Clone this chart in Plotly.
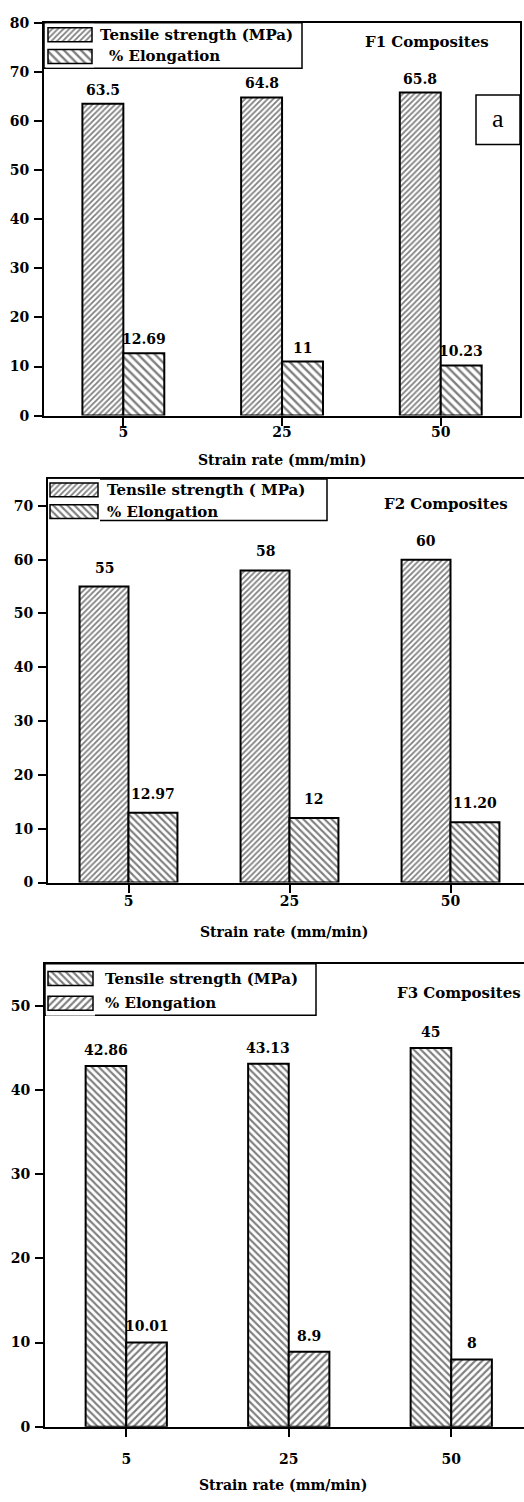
import plotly.graph_objects as go

W, H = 524, 1502

# Strain rates on the x axis (mm/min)
strain_rates = ["5", "25", "50"]

# Values as printed above each bar; bar heights are parsed from these strings
f1_tensile_txt = ["63.5", "64.8", "65.8"]
f1_elong_txt = ["12.69", "11", "10.23"]
f2_tensile_txt = ["55", "58", "60"]
f2_elong_txt = ["12.97", "12", "11.20"]
f3_tensile_txt = ["42.86", "43.13", "45"]
f3_elong_txt = ["10.01", "8.9", "8"]

y_ticks_f1 = [0, 10, 20, 30, 40, 50, 60, 70, 80]
y_ticks_f2 = [0, 10, 20, 30, 40, 50, 60, 70]
y_ticks_f3 = [0, 10, 20, 30, 40, 50]

SERIF = "DejaVu Serif"


def px_x(px):
    return px / W


def px_y(py):
    return 1 - py / H


panels = [
    dict(title="F1 Composites", tensile=f1_tensile_txt, elong=f1_elong_txt,
         tens_name="Tensile strength (MPa)", ticks=y_ticks_f1, ymax=80,
         left=44, right=520, top=15, bottom=412, spacing=158.7, mirror_y=True,
         bar_w=0.258, tens_pat=dict(shape="/", size=4, solidity=0.45),
         elong_pat=dict(shape="\\", size=6, solidity=0.4),
         label_shift=14, xlab_pad=-5, xtitle_y=457, title_xy=(427, 34),
         legend_box=(44, 15, 302, 61), swatch_x=(48, 92), rows=(27, 49),
         text_x=(98, 107)),
    dict(title="F2 Composites", tensile=f2_tensile_txt, elong=f2_elong_txt,
         tens_name="Tensile strength ( MPa)", ticks=y_ticks_f2, ymax=75,
         left=48, right=524, top=476, bottom=884, spacing=161, mirror_y=False,
         bar_w=0.304, tens_pat=dict(shape="/", size=4, solidity=0.45),
         elong_pat=dict(shape="\\", size=5, solidity=0.42),
         label_shift=19, xlab_pad=-3, xtitle_y=934, title_xy=(446, 501),
         legend_box=(48, 476, 327, 518), swatch_x=(50, 98), rows=(487, 509),
         text_x=(105, 105)),
    dict(title="F3 Composites", tensile=f3_tensile_txt, elong=f3_elong_txt,
         tens_name="Tensile strength (MPa)", ticks=y_ticks_f3, ymax=55,
         left=45, right=524, top=966, bottom=1434, spacing=162.5, mirror_y=False,
         bar_w=0.25, tens_pat=dict(shape="\\", size=5, solidity=0.42),
         elong_pat=dict(shape="/", size=5, solidity=0.42),
         label_shift=16, xlab_pad=10, xtitle_y=1493, title_xy=(459, 996),
         legend_box=(45, 966, 316, 1018), swatch_x=(48, 93), rows=(981, 1006),
         text_x=(103, 103)),
]

fig = go.Figure()
annotations = []
shapes = []
layout_axes = {}

for k, p in enumerate(panels):
    n = k + 1
    xa = "x" if n == 1 else f"x{n}"
    ya = "y" if n == 1 else f"y{n}"
    tens_vals = [float(s) for s in p["tensile"]]
    elong_vals = [float(s) for s in p["elong"]]
    w = p["bar_w"]

    for vals, pat, offset in ((tens_vals, p["tens_pat"], -w), (elong_vals, p["elong_pat"], 0.0)):
        fig.add_trace(go.Bar(
            x=strain_rates, y=vals, xaxis=xa, yaxis=ya,
            width=w, offset=offset, showlegend=False,
            marker=dict(color="white", line=dict(color="black", width=2),
                        pattern=dict(fgcolor="black", bgcolor="white", **pat)),
            hoverinfo="skip",
        ))

    # value labels above the bars
    for texts, vals, dx in ((p["tensile"], tens_vals, -w / 2), (p["elong"], elong_vals, w / 2)):
        for i, (t, v) in enumerate(zip(texts, vals)):
            annotations.append(dict(
                x=i + dx, y=v, xref=xa, yref=ya, text=t, showarrow=False,
                yanchor="middle", yshift=p["label_shift"],
                font=dict(family=SERIF, size=14, color="black", weight="bold")))

    x_end = -0.5 + (p["right"] - p["left"]) / p["spacing"]
    ax_common = dict(showline=True, linecolor="black", linewidth=2,
                     ticks="outside", ticklen=8, tickwidth=2, tickcolor="black",
                     showgrid=False, zeroline=False,
                     tickfont=dict(family=SERIF, size=14, color="black", weight="bold"))
    layout_axes[("xaxis" if n == 1 else f"xaxis{n}")] = dict(
        ax_common, type="category", range=[-0.5, x_end], mirror=True,
        domain=[px_x(p["left"]), px_x(p["right"])], anchor=ya,
        ticklabelstandoff=p["xlab_pad"])
    layout_axes[("yaxis" if n == 1 else f"yaxis{n}")] = dict(
        ax_common, range=[0, p["ymax"]], tickvals=p["ticks"], mirror=p["mirror_y"],
        domain=[px_y(p["bottom"]), px_y(p["top"])], anchor=xa, ticklabelstandoff=2)

    # x axis title
    annotations.append(dict(
        x=px_x((p["left"] + 520) / 2), y=px_y(p["xtitle_y"]), xref="paper", yref="paper",
        text="Strain rate (mm/min)", showarrow=False, xanchor="center", yanchor="middle",
        font=dict(family=SERIF, size=14, color="black", weight="bold")))

    # composite name
    annotations.append(dict(
        x=px_x(p["title_xy"][0]), y=px_y(p["title_xy"][1]), xref="paper", yref="paper",
        text=p["title"], showarrow=False, xanchor="center", yanchor="middle",
        font=dict(family=SERIF, size=15, color="black", weight="bold")))

    # legend frame
    x0, y0, x1, y1 = p["legend_box"]
    shapes.append(dict(type="rect", xref="paper", yref="paper",
                       x0=px_x(x0), x1=px_x(x1), y0=px_y(y1), y1=px_y(y0),
                       line=dict(color="black", width=1.5), fillcolor="white", layer="below"))

    # legend swatches drawn as small patterned bars on their own axes
    lx = 3 + n
    lxa, lya = f"x{lx}", f"y{lx}"
    sx0, sx1 = p["swatch_x"]
    r0, r1 = p["rows"]
    row_h = r1 - r0
    for row, pat in ((1, p["tens_pat"]), (0, p["elong_pat"])):
        fig.add_trace(go.Bar(
            x=[1], y=[row], base=[0], orientation="h", xaxis=lxa, yaxis=lya,
            width=14 / row_h, showlegend=False, hoverinfo="skip",
            marker=dict(color="white", line=dict(color="black", width=1.5),
                        pattern=dict(fgcolor="black", bgcolor="white", **pat))))
    pad = 2
    layout_axes[f"xaxis{lx}"] = dict(
        domain=[px_x(sx0 - pad), px_x(sx1 + pad)], anchor=lya, visible=False,
        range=[-pad / (sx1 - sx0), 1 + pad / (sx1 - sx0)], fixedrange=True)
    layout_axes[f"yaxis{lx}"] = dict(
        domain=[px_y(r1 + row_h / 2), px_y(r0 - row_h / 2)], anchor=lxa, visible=False,
        range=[-0.5, 1.5], fixedrange=True)

    # legend labels
    for label, tx, ty in ((p["tens_name"], p["text_x"][0], r0), ("% Elongation", p["text_x"][1], r1)):
        annotations.append(dict(
            x=px_x(tx), y=px_y(ty), xref="paper", yref="paper", text=label,
            showarrow=False, xanchor="left", yanchor="middle",
            font=dict(family=SERIF, size=15, color="black", weight="bold")))

# panel tag
shapes.append(dict(type="rect", xref="paper", yref="paper",
                   x0=px_x(476), x1=px_x(520), y0=px_y(138), y1=px_y(88),
                   line=dict(color="black", width=1.5), fillcolor="white"))
annotations.append(dict(x=px_x(498), y=px_y(112), xref="paper", yref="paper", text="a",
                        showarrow=False, xanchor="center", yanchor="middle",
                        font=dict(family="Liberation Serif", size=26, color="black")))

fig.update_layout(
    width=W, height=H, margin=dict(l=0, r=0, t=0, b=0),
    paper_bgcolor="white", plot_bgcolor="white",
    barmode="overlay", showlegend=False,
    annotations=annotations, shapes=shapes,
    **layout_axes,
)

fig.write_html("out.html")
